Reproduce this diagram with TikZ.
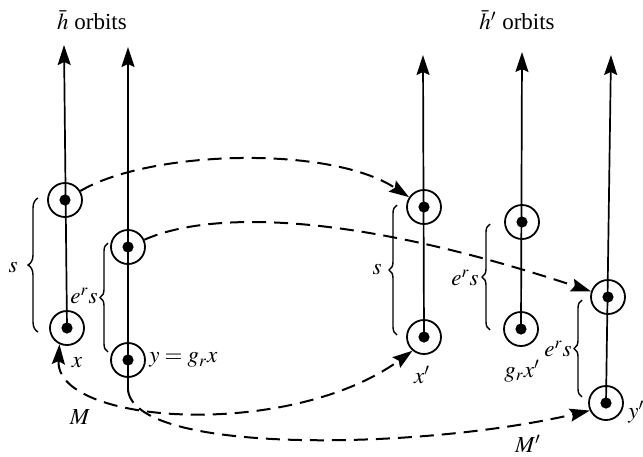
\documentclass[tikz,border=0pt]{standalone}
\usepackage{amsmath}
\usepackage{mathptmx}
\usepackage{fontspec}
\setmainfont{Liberation Serif}
\usepackage{tikz}
\usetikzlibrary{arrows.meta,decorations.pathreplacing}
\tikzset{
  >={Stealth[length=10pt,width=6.5pt,inset=1.5pt]},
  orb/.style={circle, draw, line width=0.9pt, minimum size=17pt, inner sep=0pt,
    path picture={\fill (path picture bounding box.center) circle (2.8pt);}},
  orbt/.style={->, line width=0.85pt},
  flw/.style={->, line width=1pt, dash pattern=on 7pt off 4pt},
  brc/.style={decorate, decoration={brace, amplitude=4pt}, line width=0.7pt},
  lbl/.style={font=\fontsize{11.5pt}{13pt}\selectfont, inner sep=0.5pt},
}

\begin{document}
\begin{tikzpicture}[x=0.5pt, y=-0.5pt]
  \useasboundingbox (0,0) rectangle (643,456);
  % headings
  \node[lbl] (hd1) at (92,20) {$\bar h$ orbits};
  \node[lbl] (hd2) at (517,20) {$\bar h'$ orbits};
  % orbit points
  \node[orb] (a1) at (65,200) {};
  \node[orb] (a2) at (67,328) {};
  \node[orb] (b1) at (128,247) {};
  \node[orb] (b2) at (128,360) {};
  \node[orb] (c1) at (424,207) {};
  \node[orb] (c2) at (424,337) {};
  \node[orb] (d1) at (522,222) {};
  \node[orb] (d2) at (521,329) {};
  \node[orb] (e1) at (608,297) {};
  \node[orb] (e2) at (606,403) {};
  % tops of the orbits
  \coordinate (t1) at (64,45);
  \coordinate (t2) at (128,47);
  \coordinate (t3) at (423,55);
  \coordinate (t4) at (522,52);
  \coordinate (t5) at (611,55);
  \coordinate (m2) at (128,390);
  % orbit lines
  \draw[orbt] (a2.center) -- (t1);
  \draw[orbt] (m2) -- (t2);
  \draw[orbt] (c2.center) -- (t3);
  \draw[orbt] (d2.center) -- (t4);
  \draw[orbt] (e2.center) -- (t5);
  % braces
  \draw[brc, decoration={amplitude=5pt}] (38,332) -- (38,198);
  \draw[brc] (108,352) -- (108,243);
  \draw[brc] (397,335) -- (397,205);
  \draw[brc] (490,330) -- (490,224);
  \draw[brc] (582,397) -- (582,300);
  \node[lbl] (s1) at (13,268) {$s$};
  \node[lbl] (s2) at (84,296) {$e^r s$};
  \node[lbl] (s3) at (377,270) {$s$};
  \node[lbl] (s4) at (465,278) {$e^r s$};
  \node[lbl] (s5) at (558,349) {$e^r s$};
  % point labels
  \node[lbl] (lx) at (77,363) {$x$};
  \node[lbl, anchor=west] (ly) at (148,360) {$y = g_r x$};
  \node[lbl] (lx2) at (422,375) {$x'$};
  \node[lbl] (lgx) at (522,371) {$g_r x'$};
  \node[lbl, anchor=west] (ly2) at (627,412) {$y'$};
  \node[lbl] (lm) at (80,417) {$M$};
  \node[lbl] (lm2) at (528,444) {$M'$};
  % flow maps
  \draw[flw] (a1) .. controls (150,150) and (330,145) .. (c1);
  \draw[flw] (b1) .. controls (200,215) and (330,205) .. (e1);
  \draw[flw, <->] (a2.-115) .. controls (55,425) and (290,440) .. (c2.-130);
  \draw[flw] (m2) .. controls (135,455) and (420,450) .. (e2.205);
\end{tikzpicture}
\end{document}
